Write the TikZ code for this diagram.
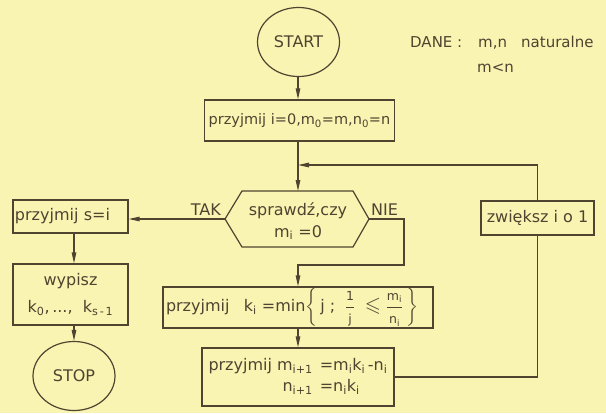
\documentclass[tikz,border=0pt]{standalone}
\usepackage{fontspec}
\usepackage{amsmath,amssymb}
\setmainfont{DejaVu Sans}
\usetikzlibrary{arrows.meta,shapes.geometric}
\definecolor{paper}{HTML}{FAF4B3}
\definecolor{ink}{HTML}{4E4430}
\newcommand{\sbs}[1]{\textsubscript{#1}}
\newcommand{\fr}[2]{\genfrac{}{}{0.8pt}{0}{\text{\fontsize{12.5}{13}\selectfont #1}}{\text{\fontsize{12.5}{13}\selectfont #2}}}
\begin{document}
\begin{tikzpicture}[x=1pt,y=-1pt,
  ln/.style={draw=ink,line width=1.2pt},
  arr/.style={ln,-{Triangle[length=11pt,width=4.5pt]}},
  box/.style={ln,rectangle,inner sep=0pt,text=ink,font=\fontsize{16}{19}\selectfont},
  term/.style={ln,ellipse,minimum width=82pt,minimum height=69pt,inner sep=0pt,text=ink,font=\fontsize{16}{19}\selectfont},
  txt/.style={inner sep=0pt,text=ink,font=\fontsize{16}{19}\selectfont},
  dtxt/.style={txt,font=\fontsize{15}{18}\selectfont,anchor=base west}]
\fill[paper] (0,0) rectangle (606,413);
\useasboundingbox (0,0) rectangle (606,413);

% terminals
\node[term] (start) at (298.5,42) {START};
\node[term] (stop) at (74,376) {STOP};

% data
\node[dtxt] (dane) at (410,47) {DANE :};
\node[dtxt] (dane2) at (478,47) {m,n};
\node[dtxt] (dane3) at (521,47) {naturalne};
\node[dtxt] (dane4) at (477,72) {m<n};

% boxes
\node[box,minimum width=190pt,minimum height=41pt,font=\fontsize{14.5}{17}\selectfont] (b1) at (299.5,120.5) {przyjmij i=0,m\sbs{0}=m,n\sbs{0}=n};

\coordinate (hL) at (225,219);
\coordinate (hTL) at (242,191);
\coordinate (hTR) at (353,191);
\coordinate (hR) at (369,219);
\coordinate (hBR) at (353,247);
\coordinate (hBL) at (242,247);
\draw[ln] (hL) -- (hTL) -- (hTR) -- (hR) -- (hBR) -- (hBL) -- cycle;
\node[txt,align=center,font=\fontsize{16}{22}\selectfont] (hex) at (298,221) {sprawdź,czy\\m\sbs{i} =0};
\node[txt,anchor=south east] (tak) at (221,216) {TAK};
\node[txt,anchor=south west] (nie) at (371,216) {NIE};

\node[box,minimum width=115pt,minimum height=33pt,text width=111pt,inner xsep=2pt,align=left] (si) at (70.5,216.5) {przyjmij s=i};
\node[box,minimum width=115pt,minimum height=61pt,align=center,font=\fontsize{16}{27}\selectfont] (wyp) at (70.5,294.5) {wypisz\hspace{12pt}\\k\sbs{0},\,...,\ \ k\sbs{s\,-\,1}};

\node[box,minimum width=270pt,minimum height=41pt] (b2) at (298,307.5)
  {\makebox[264pt][l]{przyjmij\hspace{0.9em}k\sbs{i} =min$\left\{\,\text{j ;}\;\;\fr{1}{j}\;\;\scalebox{1.3}{$\leqslant$}\;\fr{m\sbs{i}}{n\sbs{i}}\,\right\}$}};

\node[box,minimum width=192pt,minimum height=58pt,font=\fontsize{16}{21}\selectfont] (b3) at (298,377)
  {\begin{tabular}{@{}r@{}l@{}}przyjmij m\sbs{i+1}\hspace{7pt} & =m\sbs{i}k\sbs{i}\,-n\sbs{i}\\ n\sbs{i+1}\hspace{7pt} & =n\sbs{i}k\sbs{i}\end{tabular}};

\node[box,minimum width=113pt,minimum height=34pt] (zw) at (537.5,218) {zwiększ i o 1};

% connectors
\coordinate (join) at (298,165);
\coordinate (nieC) at (404,265);
\draw[arr] (start.south -| join) -- (b1.north -| join);
\draw[arr] (b1.south -| join) -- (hTL -| join);
\draw[arr] (zw.north) |- (join);
\draw[arr] (hL) -- (hL -| si.east);
\draw[arr] (hR) -| (nieC) -| (b2.north -| join);
\draw[arr] (b2.south -| join) -- (b3.north -| join);
\draw[ln] (b3.east) -| (zw.south);
\draw[arr] (si.south -| stop.center) -- (wyp.north -| stop.center);
\draw[arr] (wyp.south -| stop.center) -- (stop.north);
\end{tikzpicture}
\end{document}
